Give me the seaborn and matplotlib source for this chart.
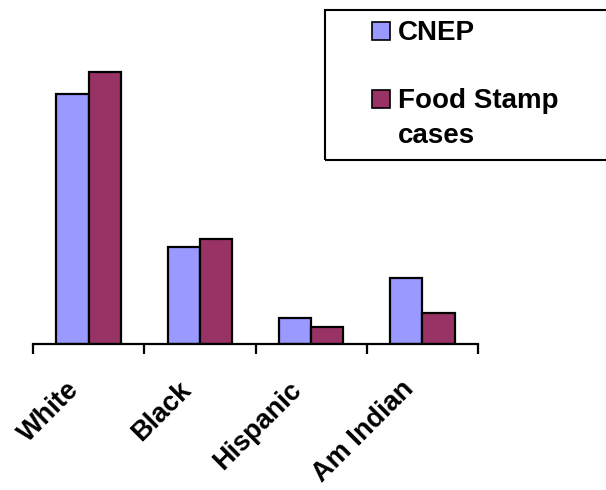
import matplotlib
matplotlib.use("Agg")
import matplotlib.pyplot as plt
import matplotlib.transforms as mtransforms
import seaborn as sns
import pandas as pd
import numpy as np

# values (percent of cases)
groups = ["White", "Black", "Hispanic", "Am Indian"]
cnep = [73.5, 28.5, 7.6, 19.4]
food_stamp = [80.0, 31.0, 5.0, 9.1]
series = ["CNEP", "Food Stamp"]
colors = ["#9999FF", "#993366"]

df = pd.DataFrame({
    "group": groups * 2,
    "value": cnep + food_stamp,
    "series": [series[0]] * len(groups) + [series[1]] * len(groups),
})

sns.set_style("white")
plt.rcParams["font.family"] = ["Liberation Sans", "DejaVu Sans"]
plt.rcParams["text.color"] = "black"
plt.rcParams["xtick.color"] = "black"

fig = plt.figure(figsize=(6.06, 4.9), dpi=100)
ax = fig.add_axes([33 / 606, 146 / 490, 445 / 606, 306 / 490])

sns.barplot(data=df, x="group", y="value", hue="series",
            palette=colors, saturation=1, edgecolor="black",
            linewidth=1.6, width=0.58, ax=ax, legend=False)

ax.set_xlim(-0.5, 3.5)
ax.set_ylim(0, 90)
ax.set_xlabel("")
ax.set_ylabel("")
ax.set_yticks([])
for s in ["top", "right", "left"]:
    ax.spines[s].set_visible(False)
ax.spines["bottom"].set_color("black")
ax.spines["bottom"].set_linewidth(1.6)

# major ticks between categories, labels at centres
ax.set_xticks(np.arange(-0.5, 4, 1))
ax.set_xticklabels([])
ax.tick_params(axis="x", which="major", direction="out", length=7,
               width=1.6, color="black", bottom=True)
ax.set_xticks(np.arange(len(groups)), minor=True)
ax.set_xticklabels(groups, minor=True, rotation=45, ha="right",
                   va="center", rotation_mode="anchor",
                   fontsize=19.5, fontweight="bold", color="black")
ax.tick_params(axis="x", which="minor", length=0, pad=30)
shift = mtransforms.ScaledTranslation(-13 / 100, 0, fig.dpi_scale_trans)
for lab in ax.get_xticklabels(minor=True):
    lab.set_transform(lab.get_transform() + shift)

# legend box at top right, drawn by hand so the second line sits under the text
fig.patches.append(plt.Rectangle((325 / 606, 1 - 160 / 490), 300 / 606, 150 / 490,
                                 transform=fig.transFigure, fill=False,
                                 edgecolor="black", linewidth=1.5))
for lab, c, ytop in zip(series, colors, [22, 90]):
    fig.patches.append(plt.Rectangle((372 / 606, 1 - (ytop + 18) / 490), 18 / 606, 18 / 490,
                                     transform=fig.transFigure, facecolor=c,
                                     edgecolor="black", linewidth=1.2))
    fig.text(398 / 606, 1 - (ytop + 18) / 490, lab, ha="left", va="baseline",
             fontsize=20, fontweight="bold")
fig.text(398 / 606, 1 - 143 / 490, "cases", ha="left", va="baseline",
         fontsize=20, fontweight="bold")

fig.savefig("out.png", dpi=100)
